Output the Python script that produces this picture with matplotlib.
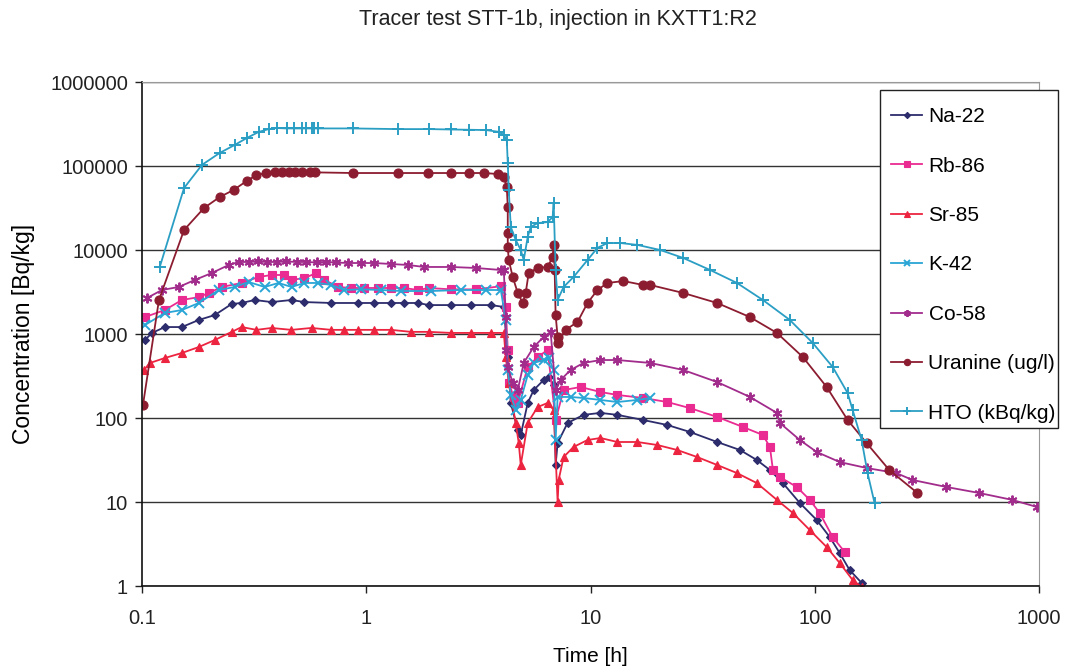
import matplotlib
matplotlib.use("Agg")
import matplotlib.pyplot as plt
from matplotlib.patches import Rectangle
from matplotlib.ticker import FixedLocator, FuncFormatter, NullLocator

# ---------------- data (time [h], concentration) ----------------
hto_t = [0.120, 0.154, 0.185, 0.222, 0.259, 0.293, 0.331, 0.367, 0.398, 0.441, 0.478, 0.517,
         0.541, 0.570, 0.585, 0.612, 0.875, 1.388, 1.905, 2.387, 2.87, 3.415, 3.90, 4.106,
         4.233, 4.276, 4.32, 4.41, 4.64, 4.886, 5.038, 5.248, 5.412, 5.81, 6.44, 6.78, 6.85,
         6.99, 7.135, 7.586, 8.40, 9.70, 10.74, 11.9, 13.6, 16.18, 20.47, 25.9, 34.15, 45.0,
         58.7, 77.4, 98.0, 120.2, 140.2, 147.5, 161.8, 172, 184.8]
hto_c = [6280, 54700, 103000, 143000, 178000, 215000, 254000, 275000, 283000, 280000, 280000,
         280000, 280000, 280000, 280000, 280000, 280000, 275000, 275000, 272000, 270000, 268000,
         255000, 234000, 204000, 109000, 51800, 18800, 13200, 10000, 7600, 14300, 18800, 20900,
         21500, 24700, 36300, 5780, 2540, 3630, 4770, 7600, 10600, 12100, 12100, 11500, 10000,
         8040, 5780, 4050, 2540, 1470, 781, 405, 198, 125, 54.7, 22.1, 9.73]

ura_t = [0.101, 0.119, 0.154, 0.189, 0.222, 0.256, 0.293, 0.324, 0.359, 0.39, 0.42, 0.454,
         0.48, 0.517, 0.56, 0.588, 0.875, 1.388, 1.886, 2.387, 2.87, 3.345, 3.86, 4.106, 4.233,
         4.276, 4.276, 4.276, 4.32, 4.50, 4.738, 4.987, 5.14, 5.30, 5.81, 6.44, 6.78, 6.85,
         6.92, 6.99, 7.135, 7.135, 7.743, 8.75, 9.70, 10.74, 11.9, 14.02, 17.2, 18.48, 25.9,
         36.7, 51.4, 67.8, 88.5, 113, 140.2, 170.2, 215, 287]
ura_c = [143, 2540, 17300, 31600, 42700, 51800, 66300, 78100, 82500, 84000, 84000, 84000,
         84000, 84000, 84000, 84000, 82500, 82500, 82500, 82500, 82500, 82500, 80300, 74000,
         56200, 32500, 15900, 10900, 7600, 4770, 3080, 2340, 3080, 5320, 6110, 6280, 8260,
         11500, 5780, 1680, 921, 781, 1120, 1390, 2340, 3340, 4050, 4270, 3830, 3830, 3080,
         2340, 1590, 1030, 532, 234, 94.6, 50.4, 24.0, 12.8]

co_t = [0.1052, 0.1227, 0.146, 0.172, 0.2047, 0.2436, 0.27, 0.30, 0.33, 0.36, 0.40, 0.44,
        0.49, 0.54, 0.60, 0.66, 0.73, 0.83, 0.95, 1.085, 1.292, 1.538, 1.81, 2.387, 3.08,
        3.98, 4.106, 4.19, 4.19, 4.276, 4.50, 4.738, 5.038, 5.58, 6.18, 6.64, 6.99, 7.356,
        8.15, 9.31, 11.08, 13.18, 18.48, 25.9, 36.7, 51.4, 67.8, 69.9, 85.8, 102, 129.2,
        170.2, 231, 272.7, 386, 541, 759, 980]
co_c = [2680, 3340, 3630, 4400, 5320, 6630, 7200, 7200, 7300, 7200, 7200, 7300, 7200, 7200,
        7100, 7200, 7100, 7000, 7000, 7000, 6810, 6630, 6280, 6280, 6110, 5780, 5780, 1590,
        645, 405, 261, 215, 452, 700, 921, 1060, 215, 283, 373, 452, 490, 490, 452, 373, 268,
        178, 115, 87.2, 54.7, 39.4, 29.9, 25.4, 22.1, 18.3, 15.1, 12.8, 10.6, 8.72]

rb_t = [0.103, 0.1265, 0.1506, 0.1792, 0.1985, 0.2268, 0.2783, 0.3311, 0.378, 0.4276, 0.4642,
        0.53, 0.5995, 0.6506, 0.751, 0.858, 0.98, 1.131, 1.292, 1.476, 1.702, 1.905, 2.387,
        3.08, 3.98, 4.19, 4.276, 4.32, 4.548, 4.738, 5.248, 5.81, 6.44, 6.99, 7.586, 9.03,
        11.08, 13.18, 17.2, 21.99, 27.8, 36.7, 47.9, 58.7, 63.1, 65.1, 69.9, 83.2, 95.0,
        105.2, 120.2, 136]
rb_c = [1590, 1930, 2540, 2750, 3080, 3630, 4050, 4770, 5040, 5040, 4400, 4640, 5320, 4400,
        3630, 3530, 3530, 3530, 3530, 3530, 3340, 3530, 3400, 3400, 3700, 2100, 645, 261, 178,
        151, 405, 532, 645, 94.6, 215, 234, 204, 188, 173, 155, 131, 103, 78.1, 62.8, 45.2,
        24.0, 19.8, 15.1, 10.6, 7.39, 3.83, 2.54]

k_t = [0.1031, 0.1265, 0.1506, 0.1792, 0.22, 0.259, 0.299, 0.352, 0.4064, 0.4642, 0.53,
       0.612, 0.699, 0.798, 0.95, 1.166, 1.431, 1.945, 2.644, 3.415, 3.98, 4.19, 4.276, 4.41,
       4.64, 4.886, 5.248, 5.58, 6.18, 6.51, 6.85, 6.99, 7.135, 8.15, 9.31, 11.08, 13.18,
       16.18, 18.48]
k_c = [1280, 1780, 1930, 2340, 3340, 3630, 4160, 3630, 4050, 3630, 4050, 4050, 3830, 3340,
       3400, 3340, 3250, 3250, 3340, 3340, 3340, 1470, 373, 188, 125, 164, 325, 452, 490, 518,
       373, 54.7, 178, 178, 173, 164, 155, 164, 173]

na_t = [0.1031, 0.1108, 0.1265, 0.1506, 0.1792, 0.2111, 0.2512, 0.2783, 0.318, 0.378, 0.4642,
        0.53, 0.699, 0.9215, 1.085, 1.292, 1.476, 1.702, 1.905, 2.387, 2.93, 3.594, 4.106,
        4.276, 4.41, 4.738, 4.886, 5.248, 5.58, 6.18, 6.51, 6.85, 6.99, 7.135, 7.90, 9.31,
        11.08, 13.18, 17.2, 21.99, 27.8, 36.7, 46.4, 55.2, 63.1, 72.1, 85.8, 102, 116.6,
        129.2, 143, 161.8]
na_c = [848, 1030, 1210, 1210, 1470, 1680, 2280, 2340, 2540, 2400, 2540, 2400, 2340, 2340,
        2340, 2340, 2340, 2340, 2210, 2210, 2210, 2210, 2100, 532, 151, 72.0, 62.8, 151, 215,
        283, 308, 250, 27.6, 50.4, 87.2, 109, 115, 109, 94.6, 82.6, 68.1, 51.8, 41.6, 31.6,
        24.0, 16.8, 9.73, 6.11, 3.83, 2.47, 1.55, 1.09]

sr_t = [0.102, 0.1085, 0.1265, 0.1506, 0.1792, 0.2111, 0.2512, 0.2783, 0.324, 0.378, 0.464,
        0.57, 0.699, 0.798, 0.9215, 1.085, 1.292, 1.585, 1.905, 2.387, 2.93, 3.594, 4.106,
        4.19, 4.32, 4.64, 4.786, 4.886, 5.248, 5.81, 6.44, 6.85, 7.135, 7.21, 7.586, 8.40,
        9.70, 11.08, 13.18, 16.18, 19.86, 24.36, 29.9, 36.7, 45.0, 55.2, 67.8, 79.9, 95.0,
        113, 129.2, 147.5, 161.8]
sr_c = [373, 452, 518, 594, 700, 848, 1060, 1210, 1120, 1180, 1120, 1180, 1120, 1120, 1120,
        1120, 1120, 1060, 1060, 1030, 1030, 1030, 1030, 532, 261, 87.2, 50.4, 27.6, 87.2, 135,
        151, 125, 10, 18.3, 34.3, 45.2, 54.7, 57.8, 51.8, 51.8, 47.7, 41.6, 34.3, 27.6, 22.1,
        16.8, 10.6, 7.39, 4.64, 2.91, 1.88, 1.18, 0.97]

x_ticks = [0.1, 1, 10, 100, 1000]
y_ticks = [1, 10, 100, 1000, 10000, 100000, 1000000]

series = [
    ("Na-22", na_t, na_c, "#2d2c6c", "D", 4.5),
    ("Rb-86", rb_t, rb_c, "#ea2b91", "s", 5.5),
    ("Sr-85", sr_t, sr_c, "#ec2440", "^", 6),
    ("K-42", k_t, k_c, "#2aa6d6", "x", 6.5),
    ("Co-58", co_t, co_c, "#a12c8c", (6, 2, 0), 7),
    ("Uranine (ug/l)", ura_t, ura_c, "#8c1c30", "o", 6.5),
    ("HTO (kBq/kg)", hto_t, hto_c, "#2b9ec4", "+", 8),
]

W, H = 1067, 668
plt.rcParams['font.family'] = ['Liberation Sans', 'DejaVu Sans']
fig = plt.figure(figsize=(W / 100, H / 100), dpi=100)
ax = fig.add_axes([142 / W, 1 - 586 / H, (1039 - 142) / W, (586 - 82) / H])

for name, t, c, col, mk, ms in series:
    ax.plot(t, c, color=col, marker=mk, markersize=ms, linewidth=1.3,
            markeredgewidth=1.4 if mk in ("x", "+", (6, 2, 0)) else 0.8,
            markeredgecolor=col, markerfacecolor=col, label=name)

ax.set_xscale("log")
ax.set_yscale("log")
ax.set_xlim(0.1, 1000)
ax.set_ylim(1, 1000000)
ax.xaxis.set_major_locator(FixedLocator(x_ticks))
ax.yaxis.set_major_locator(FixedLocator(y_ticks))
ax.xaxis.set_minor_locator(NullLocator())
ax.yaxis.set_minor_locator(NullLocator())
ax.xaxis.set_major_formatter(FuncFormatter(lambda v, p: ("%g" % v)))
ax.yaxis.set_major_formatter(FuncFormatter(lambda v, p: "%d" % round(v)))
ax.tick_params(axis="both", labelsize=14.5, length=5, width=1, direction="out",
               colors="#222222")
ax.tick_params(axis="x", pad=11.5)
ax.tick_params(axis="y", pad=5)
ax.grid(True, axis="y", color="#333333", linewidth=1.0)
for s in ("top", "right"):
    ax.spines[s].set_color("#999999")
    ax.spines[s].set_linestyle((0, (2, 1)))
for s in ("left", "bottom"):
    ax.spines[s].set_color("#111111")
    ax.spines[s].set_linewidth(1.2)

ax.set_xlabel("Time [h]", fontsize=15, labelpad=14)
ax.set_ylabel("Concentration [Bq/kg]", fontsize=16.5, labelpad=11)
fig.text(558 / W, 1 - 20 / H, "Tracer test STT-1b, injection in KXTT1:R2", ha="center",
         va="center", fontsize=15.5, color="#222222")

# legend (entries placed at the reference positions, frame drawn separately)
leg = fig.legend(*ax.get_legend_handles_labels(), loc="center left",
                 bbox_to_anchor=(891 / W, 1 - 265 / H), fontsize=15, frameon=False,
                 handlelength=1.5, handletextpad=0.3, labelspacing=1.46, borderpad=0,
                 borderaxespad=0, markerscale=0.7)
fig.patches.append(Rectangle((880 / W, 1 - 428 / H), (1058 - 880) / W, (428 - 90) / H,
                             transform=fig.transFigure, facecolor="white",
                             edgecolor="#222222", linewidth=1.0, zorder=5))
leg.set_zorder(10)

fig.savefig("out.png", dpi=100)
